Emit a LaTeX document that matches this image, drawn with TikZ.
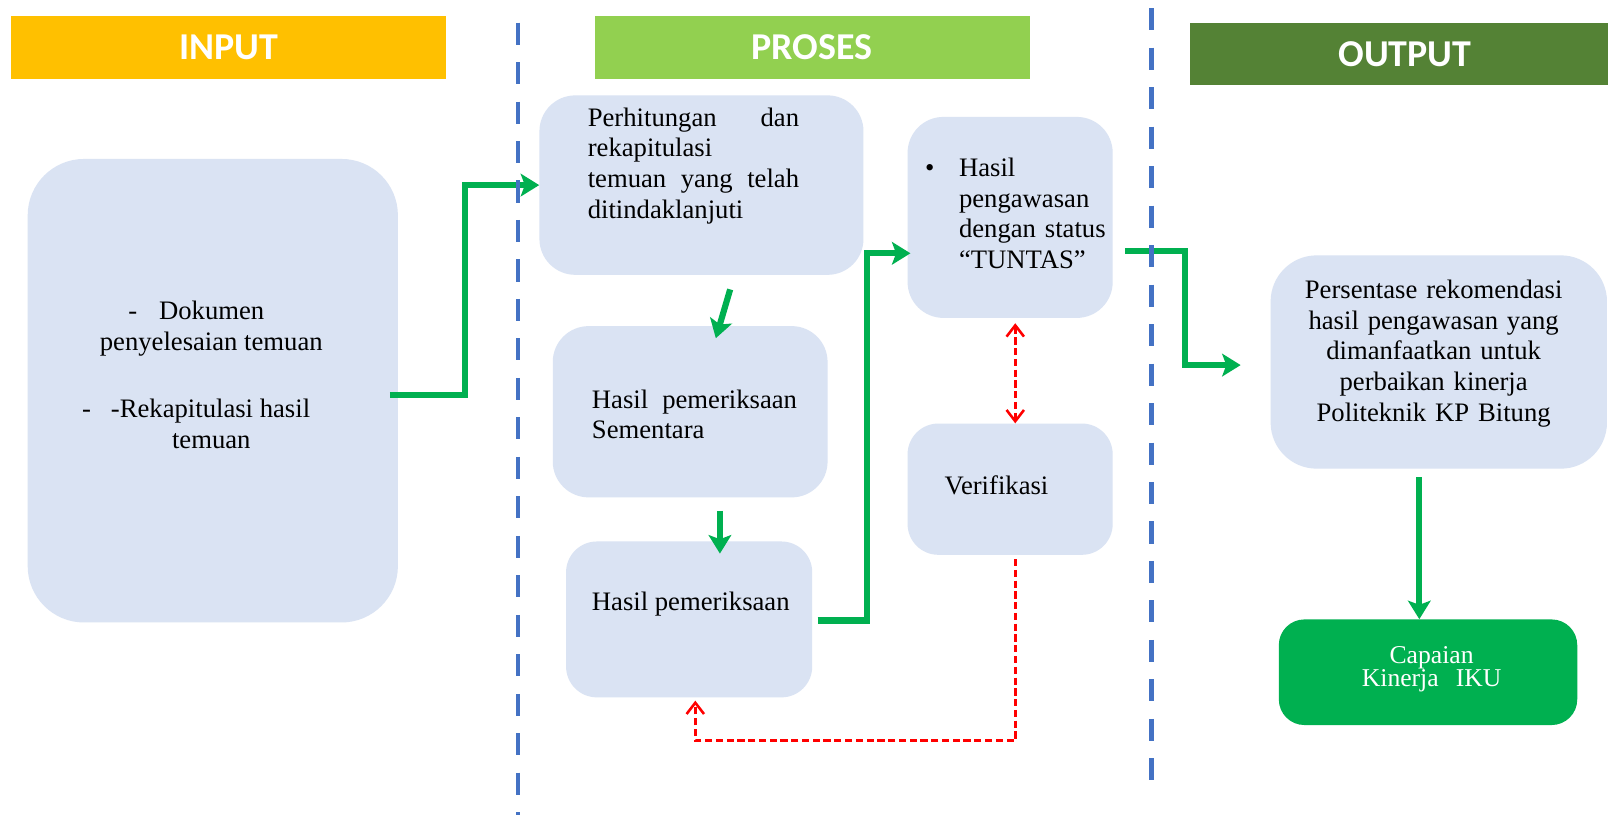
\documentclass[tikz,border=0pt]{standalone}
\usepackage{fontspec}
\setmainfont{Liberation Serif}
\newfontfamily\hdrfont{Carlito}
\usetikzlibrary{arrows.meta,calc}
\definecolor{inyellow}{HTML}{FFC000}
\definecolor{progreen}{HTML}{92D050}
\definecolor{outgreen}{HTML}{548235}
\definecolor{boxblue}{HTML}{DAE3F3}
\definecolor{ggreen}{HTML}{00B050}
\definecolor{sepblue}{HTML}{4472C4}
\definecolor{rred}{HTML}{FF0000}
\begin{document}
\begin{tikzpicture}[x=1pt,y=-1pt,
  hdr/.style={rectangle, inner sep=0pt, text=white, font=\hdrfont\bfseries\fontsize{37}{40}\selectfont},
  box/.style={rectangle, fill=boxblue, inner sep=0pt},
  txt/.style={inner sep=0pt, font=\fontsize{26}{30}\selectfont},
  gline/.style={draw=ggreen, line width=6pt, line join=miter},
  garrow/.style={gline, -{Stealth[length=18pt,width=22pt,inset=4pt]}},
  rdash/.style={draw=rred, line width=2.5pt, dash pattern=on 7pt off 3.5pt},
  sepline/.style={draw=sepblue, line width=4.5pt, dash pattern=on 21.5pt off 17pt}
]
\useasboundingbox (0,0) rectangle (1568,795);
\fill[white] (0,0) rectangle (1568,795);

% headers
\node[hdr, fill=inyellow, minimum width=424pt, minimum height=61pt] (hin) at (223,46.5) {INPUT};
\node[hdr, fill=progreen, minimum width=424pt, minimum height=61pt] (hpr) at (792,46.5) {PROSES};
\node[hdr, fill=outgreen, minimum width=420pt, minimum height=61pt] (hout) at (1370,52.5) {OUTPUT};

% boxes
\node[box, rounded corners=55pt, minimum width=361pt, minimum height=452pt] (inbox) at (207.5,381) {};
\node[box, rounded corners=35pt, minimum width=316pt, minimum height=175pt] (p1) at (684,180.5) {};
\node[box, rounded corners=35pt, minimum width=268pt, minimum height=167pt] (p2) at (673,401.5) {};
\node[box, rounded corners=30pt, minimum width=240pt, minimum height=152pt] (p3) at (672,604) {};
\node[box, rounded corners=35pt, minimum width=200pt, minimum height=196pt] (t) at (985,212) {};
\node[box, rounded corners=30pt, minimum width=200pt, minimum height=128pt] (v) at (985,477) {};
\node[box, rounded corners=45pt, minimum width=328pt, minimum height=208pt] (o) at (1403,353) {};
\node[rectangle, fill=ggreen, inner sep=0pt, rounded corners=25pt, minimum width=291pt, minimum height=103pt] (c) at (1392.5,655.5) {};

% texts
\node[txt, anchor=base west] (inD1) at (125,312) {-};
\node[txt, anchor=base west] (inD2) at (155,312) {Dokumen};
\node[txt, anchor=base] (inL2) at (206,342) {penyelesaian temuan};
\node[txt, anchor=base west] (inR1) at (80,407) {-};
\node[txt, anchor=base west] (inR2) at (108,407) {-Rekapitulasi hasil};
\node[txt, anchor=base] (inL4) at (206,437) {temuan};

\node[txt, anchor=base west, text width=206pt, align=left] (p1t) at (573,123)
  {Perhitungan\hfill dan\\rekapitulasi\\temuan\hfill yang\hfill telah\\ditindaklanjuti};
\node[txt, anchor=base west, text width=200pt, align=left] (p2t) at (577,398)
  {Hasil\hfill pemeriksaan\\Sementara};
\node[txt, anchor=base west] (p3t) at (577,595) {Hasil pemeriksaan};

\node[txt, anchor=base west] (tb) at (902,172) {\textbullet};
\node[txt, anchor=base west, text width=150pt, align=left] (tt) at (935,172)
  {Hasil\\pengawasan\\dengan status\\“TUNTAS”};
\node[txt, anchor=base west] (vt) at (921,482) {Verifikasi};

\node[txt, anchor=base, text width=320pt, align=center] (ot) at (1398,291)
  {Persentase rekomendasi\\hasil pengawasan yang\\dimanfaatkan untuk\\perbaikan kinerja\\Politeknik KP Bitung};
\node[inner sep=0pt, anchor=base, text width=260pt, align=center, text=white, font=\fontsize{25}{22}\selectfont] (ct) at (1396,647)
  {Capaian\\Kinerja\ \ IKU};

% green connectors
\draw[garrow] ($(inbox.east)+(-8,4)$) -- ++(73,0) |- (p1.west);
\draw[garrow] ($(p1.south)+(28,14)$) -- ($(p2.north)+(25,12)$);
\draw[garrow] ($(p2.south)+(29,13)$) -- ($(p3.north)+(30,12)$);
\draw[garrow] ($(p3.east)+(5,1)$) -- ++(48,0) |- ($(t.west)+(3,35)$);
\draw[garrow] ($(t.east)+(12,33)$) -- ++(58,0) |- ($(o.west)+(-29,3)$);
\draw[garrow] ($(o.south)+(-19,8)$) -- ($(c.north)+(-8.5,0)$);

% red dashed connectors
\draw[rdash, {Straight Barb[length=11pt,width=17pt,line width=2.5pt]}-{Straight Barb[length=11pt,width=17pt,line width=2.5pt]}] ($(t.south)+(5,5)$) -- ($(v.north)+(5,0)$);
\draw[rdash, -{Straight Barb[length=11pt,width=17pt,line width=2.5pt]}] ($(v.south)+(5,4)$) -- ++(0,177) -| ($(p3.south)+(6,3)$);

% separators
\draw[sepline] (505,22) -- (505,795);
\draw[sepline] (1123,8) -- (1123,776);
\end{tikzpicture}
\end{document}
